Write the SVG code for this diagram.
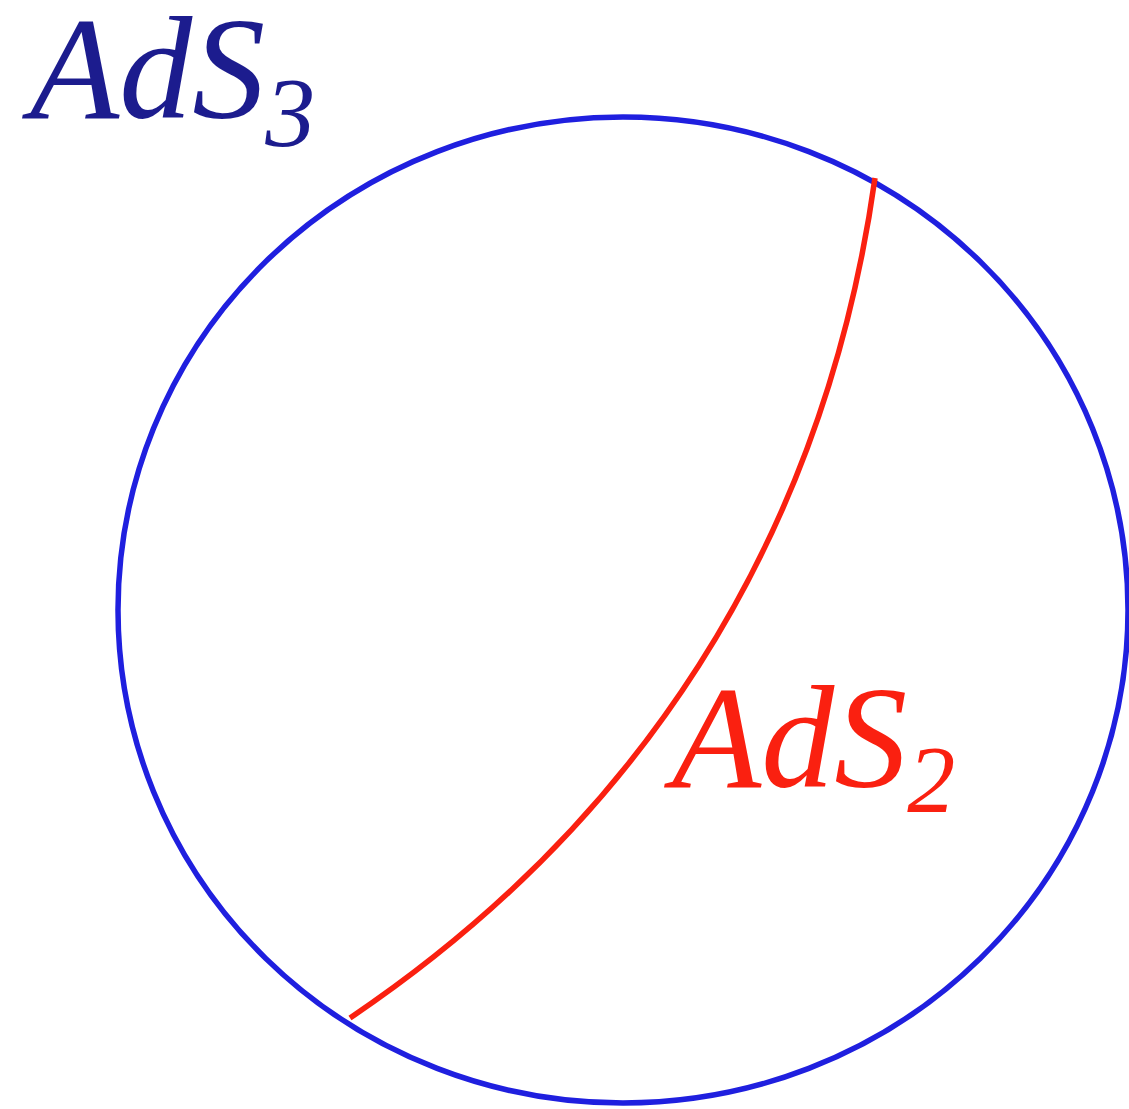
<svg xmlns="http://www.w3.org/2000/svg" width="1129" height="1109" viewBox="0 0 1129 1109">
<style>
.lbl{font-family:"Liberation Serif","DejaVu Serif",serif;font-style:italic;font-weight:normal}
</style>
<rect width="1129" height="1109" fill="#ffffff"/>
<g id="ads3">
<ellipse cx="623" cy="610" rx="505" ry="493" fill="none" stroke="#1f1fdf" stroke-width="5.5"/>
<text class="lbl" x="30" y="118" font-size="146" fill="#1c1c8e">AdS<tspan font-size="100" y="146">3</tspan></text>
</g>
<g id="connectors">
<path id="ads2" d="M350,1018 C632,828 823,548 875,178" fill="none" stroke="#fa2010" stroke-width="5.5"/>
</g>
<g id="ads2label">
<text class="lbl" x="672" y="787" font-size="146" fill="#fa2010">AdS<tspan font-size="96" y="812">2</tspan></text>
</g>
</svg>
